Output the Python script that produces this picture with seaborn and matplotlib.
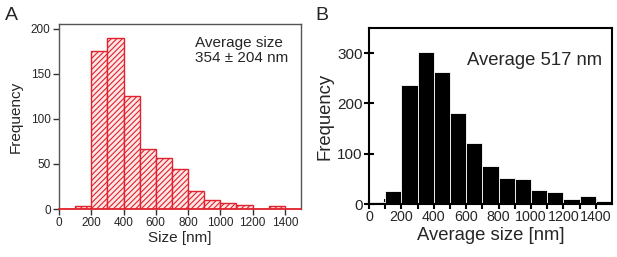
import numpy as np
import pandas as pd
import matplotlib
matplotlib.use("Agg")
import matplotlib.pyplot as plt
import seaborn as sns

# ---- data ----
bin_starts = [0, 100, 200, 300, 400, 500, 600, 700, 800, 900, 1000, 1100, 1200, 1300, 1400]
bin_width = 100
counts_a = [0, 3, 175, 190, 125, 66, 57, 44, 20, 10, 7, 4, 0, 3, 0]
counts_b = [4, 25, 236, 303, 263, 181, 121, 76, 51, 49, 27, 23, 9, 15, 5]
xticks = [0, 200, 400, 600, 800, 1000, 1200, 1400]
yticks_a = [0, 50, 100, 150, 200]
yticks_b = [0, 100, 200, 300]
label_a = "Average size\n354 ± 204 nm"
label_b = "Average 517 nm"

sns.set_theme(style="white")
plt.rcParams["font.family"] = ["Liberation Sans", "DejaVu Sans"]
plt.rcParams["hatch.linewidth"] = 0.8

edges = list(bin_starts) + [bin_starts[-1] + bin_width]
centers = [s + bin_width / 2 for s in bin_starts]
df_a = pd.DataFrame({"size": centers, "count": counts_a})
df_b = pd.DataFrame({"size": centers, "count": counts_b})

fig = plt.figure(figsize=(6.17, 2.57), dpi=100)
ax_a = fig.add_axes([59 / 617, 1 - 209 / 257, 242 / 617, 185 / 257])
ax_b = fig.add_axes([369 / 617, 1 - 204 / 257, 243 / 617, 176 / 257])

red = "#e0232d"
sns.histplot(data=df_a, x="size", weights="count", bins=edges, ax=ax_a,
             facecolor="#fde6e6", edgecolor=red, linewidth=1.0, hatch="//////",
             alpha=1)
sns.histplot(data=df_b, x="size", weights="count", bins=edges, ax=ax_b,
             facecolor="black", edgecolor="white", linewidth=0.6, alpha=1)

# ---- panel A ----
ax_a.set_xlim(0, 1500)
ax_a.set_ylim(0, 205)
ax_a.set_xticks(xticks)
ax_a.set_yticks(yticks_a)
for s in ax_a.spines.values():
    s.set_color("#555555")
    s.set_linewidth(1.0)
ax_a.spines["bottom"].set_color(red)
ax_a.spines["bottom"].set_linewidth(1.3)
ax_a.tick_params(axis="both", direction="out", length=4, width=1.0,
                 color="#333333", labelsize=8.5, pad=2,
                 bottom=True, left=True)
ax_a.set_xlabel("Size [nm]", fontsize=11, labelpad=1)
ax_a.set_ylabel("Frequency", fontsize=11, labelpad=6)
ax_a.text(0.562, 0.935, label_a, transform=ax_a.transAxes, fontsize=11,
          va="top", ha="left", linespacing=1.1)

# ---- panel B ----
ax_b.set_xlim(0, 1500)
ax_b.set_ylim(0, 350)
ax_b.set_xticks(xticks)
ax_b.set_xticks(bin_starts, minor=True)
ax_b.set_yticks(yticks_b)
for s in ax_b.spines.values():
    s.set_color("black")
    s.set_linewidth(1.5)
ax_b.tick_params(axis="both", which="major", direction="inout", length=7,
                 width=1.5, color="black", labelsize=11, pad=1,
                 bottom=True, left=True)
ax_b.tick_params(axis="x", which="major", labelsize=10.3)
ax_b.tick_params(axis="x", which="minor", direction="inout", length=7,
                 width=1.5, color="black", bottom=True)
ax_b.set_xlabel("Average size [nm]", fontsize=13.3, labelpad=2)
ax_b.set_ylabel("Frequency", fontsize=13.3, labelpad=3)
ax_b.text(0.402, 0.79, label_b, transform=ax_b.transAxes, fontsize=13.3,
          va="baseline", ha="left")

fig.text(5 / 617, 1 - 20 / 257, "A", fontsize=14, ha="left", va="baseline")
fig.text(315 / 617, 1 - 20 / 257, "B", fontsize=14, ha="left", va="baseline")

fig.savefig("out.png", dpi=100)
